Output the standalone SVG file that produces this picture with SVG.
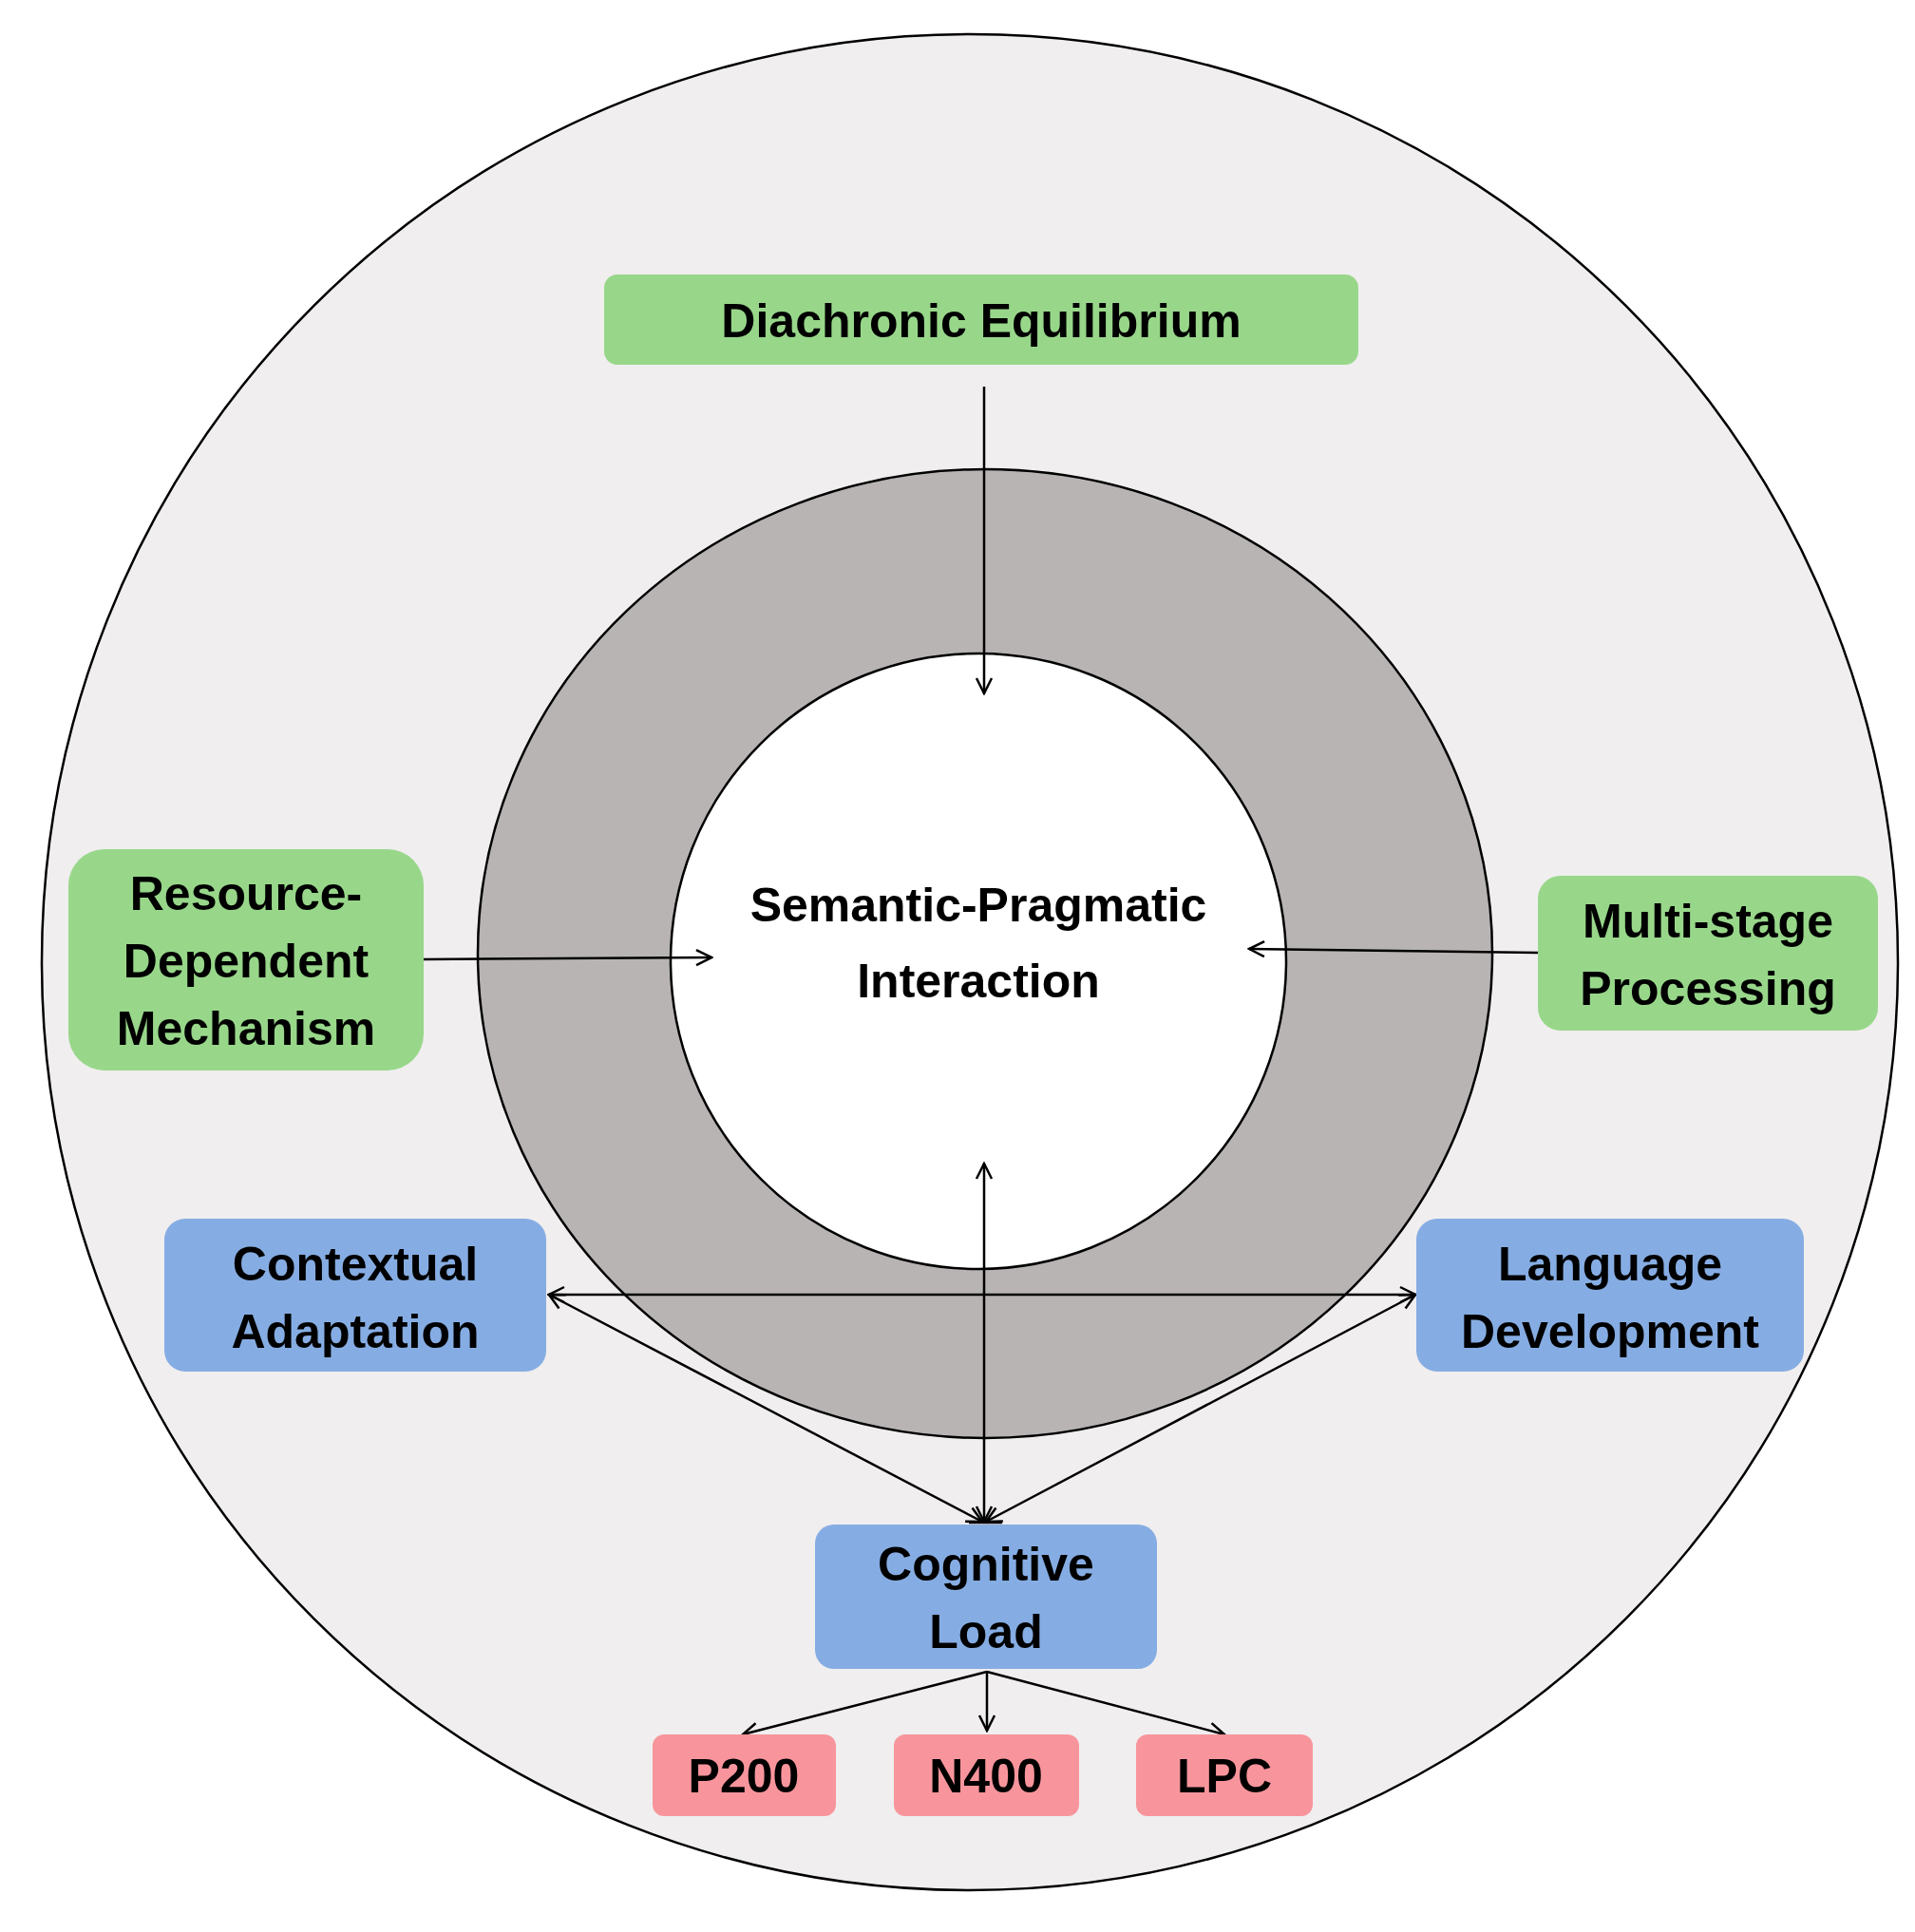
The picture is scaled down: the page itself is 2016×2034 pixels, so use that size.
<svg xmlns="http://www.w3.org/2000/svg" width="2016" height="2034" viewBox="0 0 2016 2034">
<style>
text{font-family:"Liberation Sans",Arial,sans-serif;font-weight:bold;font-size:50px;fill:#000;text-anchor:middle}
.g{fill:#98d78a}.b{fill:#86ade3}.p{fill:#f8959c}
.c{stroke:#000;stroke-width:2.5;fill:none}
</style>
<defs>
<marker id="a" viewBox="0 0 20 20" refX="18" refY="10" markerWidth="20" markerHeight="20" markerUnits="userSpaceOnUse" orient="auto-start-reverse">
<path d="M2,2 L18,10 L2,18" fill="none" stroke="#000" stroke-width="2.5"/>
</marker>
</defs>
<circle cx="1021" cy="1013" r="977" fill="#f0eeef" stroke="#000" stroke-width="2.5"/>
<ellipse cx="1037" cy="1004" rx="534" ry="510" fill="#b8b4b3" stroke="#000" stroke-width="2.5"/>
<circle cx="1030" cy="1012" r="324" fill="#fff" stroke="#000" stroke-width="2.5"/>
<text x="1030" y="970" font-size="56">Semantic-Pragmatic</text>
<text x="1030" y="1050" font-size="56">Interaction</text>
<g id="edges" class="c">
<line x1="1036" y1="407" x2="1036" y2="730" marker-end="url(#a)"/>
<line x1="446" y1="1010" x2="749" y2="1008" marker-end="url(#a)"/>
<line x1="1619" y1="1003" x2="1315" y2="999" marker-end="url(#a)"/>
<line x1="1036" y1="1602" x2="1036" y2="1225" marker-start="url(#a)" marker-end="url(#a)"/>
<line x1="578" y1="1363" x2="1490" y2="1363" marker-start="url(#a)" marker-end="url(#a)"/>
<line x1="578" y1="1363" x2="1034" y2="1602" marker-start="url(#a)" marker-end="url(#a)"/>
<line x1="1490" y1="1363" x2="1038" y2="1602" marker-start="url(#a)" marker-end="url(#a)"/>
<line x1="1020" y1="1603" x2="1055" y2="1603"/>
<line x1="1039" y1="1760" x2="782" y2="1826" marker-end="url(#a)"/>
<line x1="1039" y1="1760" x2="1039" y2="1822" marker-end="url(#a)"/>
<line x1="1039" y1="1760" x2="1289" y2="1826" marker-end="url(#a)"/>
</g>
<g id="diachronic"><rect class="g" x="636" y="289" width="794" height="95" rx="14"/><text x="1033" y="355" font-size="54">Diachronic Equilibrium</text></g>
<g id="resource"><rect class="g" x="72" y="894" width="374" height="233" rx="38"/><text x="259" y="958">Resource-</text><text x="259" y="1029">Dependent</text><text x="259" y="1100">Mechanism</text></g>
<g id="multistage"><rect class="g" x="1619" y="922" width="358" height="163" rx="24"/><text x="1798" y="987">Multi-stage</text><text x="1798" y="1058">Processing</text></g>
<g id="contextual"><rect class="b" x="173" y="1283" width="402" height="161" rx="22"/><text x="374" y="1348">Contextual</text><text x="374" y="1419">Adaptation</text></g>
<g id="language"><rect class="b" x="1491" y="1283" width="408" height="161" rx="22"/><text x="1695" y="1348">Language</text><text x="1695" y="1419">Development</text></g>
<g id="cognitive"><rect class="b" x="858" y="1605" width="360" height="152" rx="20"/><text x="1038" y="1664">Cognitive</text><text x="1038" y="1735">Load</text></g>
<g id="p200"><rect class="p" x="687" y="1826" width="193" height="86" rx="12"/><text x="783" y="1887">P200</text></g>
<g id="n400"><rect class="p" x="941" y="1826" width="195" height="86" rx="12"/><text x="1038" y="1887">N400</text></g>
<g id="lpc"><rect class="p" x="1196" y="1826" width="186" height="86" rx="12"/><text x="1289" y="1887">LPC</text></g>
</svg>
